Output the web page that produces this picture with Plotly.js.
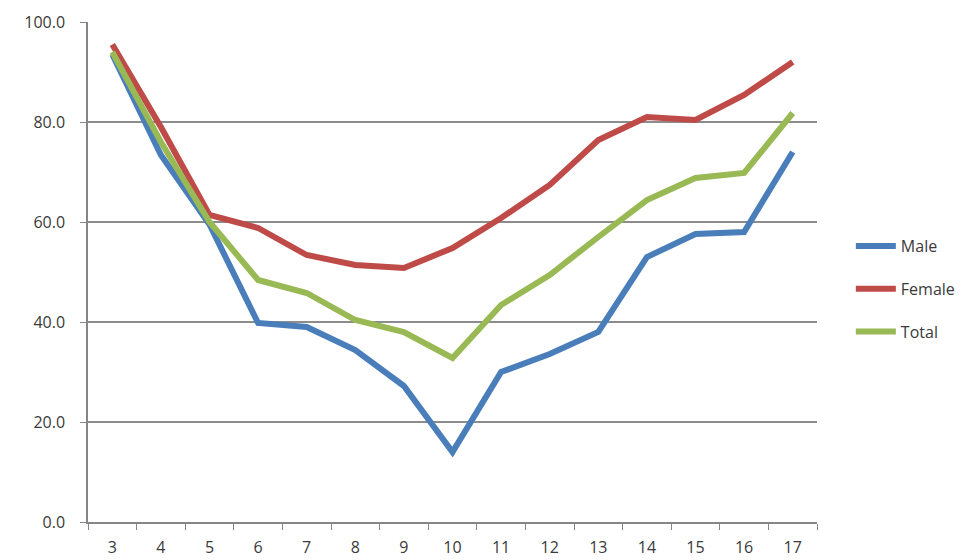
<!DOCTYPE html>
<html>
<head>
<meta charset="utf-8">
<script src="https://cdn.plot.ly/plotly-3.0.1.min.js"></script>
<style>
  html, body { margin: 0; padding: 0; background: #fff; }
  #chart { width: 971px; height: 560px; }
</style>
</head>
<body>
<div id="chart"></div>
<script>
// Age categories along the x axis
const ages = ['3', '4', '5', '6', '7', '8', '9', '10', '11', '12', '13', '14', '15', '16', '17'];

// Percentages per age group
const male   = [93.5, 73.4, 59.5, 39.8, 39.0, 34.4, 27.2, 14.0, 30.0, 33.6, 38.0, 53.0, 57.6, 58.0, 74.0];
const female = [95.5, 79.0, 61.4, 58.8, 53.4, 51.4, 50.8, 54.8, 60.8, 67.4, 76.4, 81.0, 80.4, 85.4, 92.0];
const total  = [94.0, 76.0, 60.0, 48.4, 45.8, 40.4, 38.0, 32.8, 43.4, 49.4, 57.0, 64.4, 68.8, 69.8, 81.8];

const yTicks = [0, 20, 40, 60, 80, 100];
const yTickText = ['0.0', '20.0', '40.0', '60.0', '80.0', '100.0'];

const font = 'Open Sans, Liberation Sans, sans-serif';
const textColor = '#3a3a3a';

function series(name, values, color, group) {
  return {
    type: 'scatter',
    mode: 'lines',
    name: name,
    x: ages,
    y: values,
    legendgroup: group,
    line: { color: color, width: 6 },
    hoverinfo: 'x+y+name'
  };
}

const data = [
  series('Male', male, '#4a7ebb', 'm'),
  series('Female', female, '#be4b48', 'f'),
  series('Total', total, '#98b954', 't')
];

const layout = {
  width: 971,
  height: 560,
  margin: { l: 88, r: 153, t: 22, b: 38 },
  paper_bgcolor: '#ffffff',
  plot_bgcolor: '#ffffff',
  font: { family: font, size: 16, color: textColor },
  showlegend: true,
  legend: {
    x: 1.045, xanchor: 'left',
    y: 0.466, yanchor: 'middle',
    font: { family: font, size: 16, color: textColor },
    tracegroupgap: 19,
    itemwidth: 40,
    bgcolor: 'rgba(0,0,0,0)'
  },
  xaxis: {
    type: 'category',
    range: [-0.5, ages.length - 0.5],
    tickson: 'boundaries',
    ticks: 'outside',
    ticklen: 6,
    tickcolor: '#868686',
    tickwidth: 1,
    ticklabelstandoff: 10,
    showline: true,
    linecolor: '#868686',
    linewidth: 1.5,
    showgrid: false,
    zeroline: false,
    tickfont: { family: font, size: 16, color: textColor },
    fixedrange: true
  },
  yaxis: {
    range: [0, 100],
    tickvals: yTicks,
    ticktext: yTickText,
    ticks: 'outside',
    ticklen: 6,
    tickcolor: '#868686',
    ticklabelstandoff: 12,
    showline: true,
    linecolor: '#868686',
    linewidth: 1.5,
    showgrid: true,
    gridcolor: '#8c8c8c',
    gridwidth: 1.5,
    zeroline: false,
    tickfont: { family: font, size: 16, color: textColor },
    fixedrange: true
  }
};

Plotly.newPlot('chart', data, layout, { displayModeBar: false });
</script>
</body>
</html>
